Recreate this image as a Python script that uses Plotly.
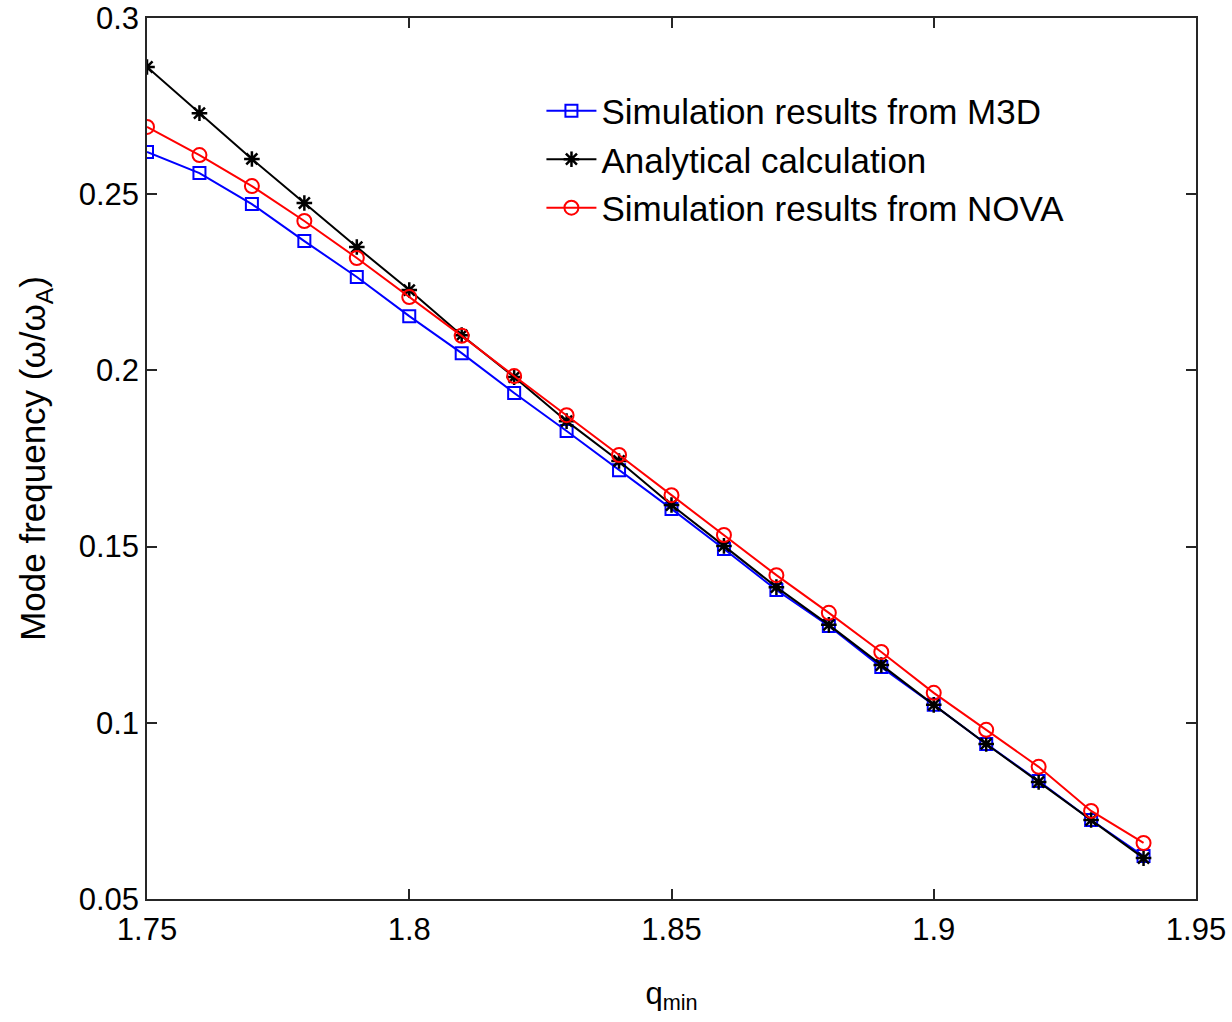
import plotly.graph_objects as go

q_min = [1.75, 1.76, 1.77, 1.78, 1.79, 1.80, 1.81, 1.82, 1.83, 1.84,
         1.85, 1.86, 1.87, 1.88, 1.89, 1.90, 1.91, 1.92, 1.93, 1.94]
m3d = [0.262, 0.256, 0.2472, 0.2367, 0.2265, 0.2154, 0.2049, 0.1936, 0.1828, 0.1717,
       0.1607, 0.1493, 0.1377, 0.1275, 0.1158, 0.1051, 0.0940, 0.0835, 0.0724, 0.0622]
analytical = [0.2861, 0.273, 0.260, 0.2475, 0.235, 0.2228, 0.210, 0.1981, 0.1856, 0.1743,
              0.1618, 0.1502, 0.1385, 0.1278, 0.1164, 0.1051, 0.0940, 0.0832, 0.0724, 0.0616]
nova = [0.2691, 0.2611, 0.2523, 0.2424, 0.2319, 0.2208, 0.2098, 0.1984, 0.1873, 0.1760,
        0.1646, 0.1533, 0.1419, 0.1312, 0.1201, 0.1085, 0.0980, 0.0875, 0.0750, 0.0659]
x_ticks = [1.75, 1.8, 1.85, 1.9, 1.95]
y_ticks = [0.05, 0.1, 0.15, 0.2, 0.25, 0.3]

FONT = "Liberation Sans, Arial, Helvetica, sans-serif"

fig = go.Figure()
fig.add_trace(go.Scatter(x=q_min, y=m3d, mode="lines+markers", name="Simulation results from M3D",
                         line=dict(color="#0000ff", width=2),
                         marker=dict(symbol="square-open", size=12, color="#0000ff", line=dict(width=2))))
fig.add_trace(go.Scatter(x=q_min, y=analytical, mode="lines+markers", name="Analytical calculation",
                         line=dict(color="#000000", width=2),
                         marker=dict(symbol="asterisk-open", size=13, color="#000000", line=dict(width=2.5))))
fig.add_trace(go.Scatter(x=q_min, y=nova, mode="lines+markers", name="Simulation results from NOVA",
                         line=dict(color="#ff0000", width=2),
                         marker=dict(symbol="circle-open", size=14, color="#ff0000", line=dict(width=2))))

axis_common = dict(showgrid=False, zeroline=False, showline=True, linecolor="#262626", linewidth=1.5,
                   mirror="ticks", ticks="inside", ticklen=10, tickwidth=1.5, tickcolor="#262626",
                   automargin=False)

fig.update_layout(
    width=1232, height=1022,
    margin=dict(l=147, r=36, t=18, b=123),
    paper_bgcolor="white", plot_bgcolor="white",
    font=dict(family=FONT, color="#000000"),
    xaxis=dict(range=[1.75, 1.95], tickvals=x_ticks, ticktext=[str(v) for v in x_ticks],
               tickfont=dict(size=31), ticklabelstandoff=2,
               title=dict(text="q<sub>min</sub>", font=dict(size=31), standoff=36),
               **axis_common),
    yaxis=dict(range=[0.05, 0.3], tickvals=y_ticks, ticktext=[f"{v:g}" for v in y_ticks],
               tickfont=dict(size=31),
               title=dict(text="Mode frequency (ω/ω<sub>A</sub>)", font=dict(size=35), standoff=22),
               **axis_common),
    legend=dict(x=0.376, y=0.928, xanchor="left", yanchor="top", bgcolor="rgba(255,255,255,0)",
                font=dict(size=35), tracegroupgap=0, itemwidth=50),
    showlegend=True,
)

fig.write_html("out.html")
